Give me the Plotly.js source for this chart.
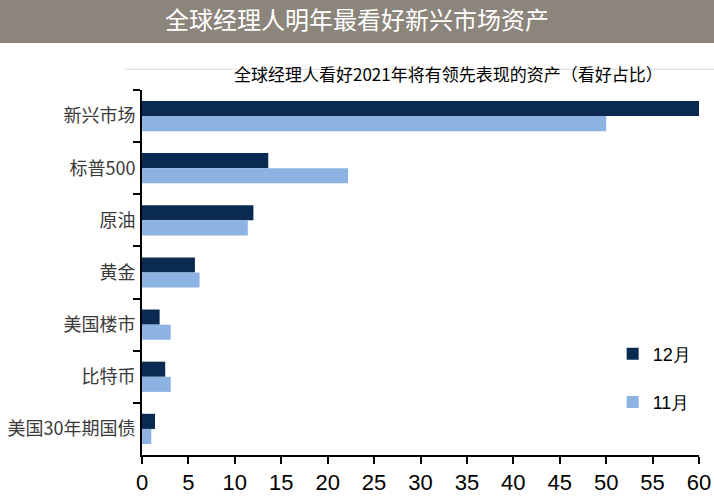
<!DOCTYPE html>
<html><head><meta charset="utf-8">
<script src="https://cdn.plot.ly/plotly-3.0.1.min.js"></script>
<style>html,body{margin:0;padding:0;background:#fff}#chart{width:714px;height:501px}</style>
</head><body><div id="chart"></div>
<script>
const categories = ["新兴市场","标普500","原油","黄金","美国楼市","比特币","美国30年期国债"];
const dec = [60, 13.6, 12.0, 5.7, 1.9, 2.5, 1.4];
const nov = [50, 22.2, 11.4, 6.2, 3.1, 3.1, 1.0];
const seriesNames = ["12月","11月"];
const xTicks = [0,5,10,15,20,25,30,35,40,45,50,55,60];

const traces = [
  {type:'bar', orientation:'h', name:seriesNames[0], y:categories, x:dec, marker:{color:'#0b2a52'}, legendgroup:'a'},
  {type:'bar', orientation:'h', name:seriesNames[1], y:categories, x:nov, marker:{color:'#8db3e2'}, legendgroup:'b'}
];
const layout = {
  width:714, height:501,
  margin:{l:142, r:15, t:90, b:46},
  paper_bgcolor:'#fff', plot_bgcolor:'#fff',
  barmode:'group', bargap:0.42, bargroupgap:0,
  showlegend:true,
  legend:{x:0.845, y:0.211, xanchor:'left', yanchor:'middle', font:{family:'Liberation Sans, Arial, sans-serif', size:18, color:'#000'}, tracegroupgap:22, bgcolor:'rgba(0,0,0,0)'},
  title:{text:'全球经理人明年最看好新兴市场资产', x:0.5, xanchor:'center', y:0.958, yanchor:'middle', yref:'container', font:{family:'Noto Sans CJK SC, sans-serif', size:24, color:'#fff'}},
  xaxis:{range:[0,60], tickvals:xTicks, showgrid:false, zeroline:false, showline:true, linecolor:'#000', linewidth:2, automargin:false,
         ticks:'outside', ticklen:7, tickwidth:2, tickcolor:'#000',
         tickfont:{family:'Liberation Sans Narrow, Arial Narrow, sans-serif', size:22, color:'#000'}},
  yaxis:{autorange:'reversed', showgrid:false, zeroline:false, showline:true, linecolor:'#000', linewidth:2, automargin:false,
         ticks:'outside', ticklen:7, tickwidth:2, tickcolor:'#000', tickson:'boundaries', ticklabelstandoff:1,
         tickfont:{family:'Noto Sans CJK SC, sans-serif', size:18, color:'#3a3a3a'}},
  shapes:[
    {type:'rect', xref:'paper', yref:'paper', x0:-0.26, x1:1.03, y0:1.1288, y1:1.25, fillcolor:'#8c857b', line:{width:0}, layer:'below'},
    {type:'line', xref:'paper', yref:'paper', x0:-0.0305, x1:1.03, y0:1.0567, y1:1.0567, line:{color:'#dcdcdc', width:1}, layer:'below'}
  ],
  annotations:[
    {text:'全球经理人看好2021年将有领先表现的资产（看好占比）', xref:'paper', yref:'paper', x:0.551, y:1.0452, xanchor:'center', yanchor:'middle', showarrow:false,
     font:{family:'Noto Sans CJK SC, sans-serif', size:17, color:'#000'}}
  ]
};
Plotly.newPlot('chart', traces, layout, {displayModeBar:false, staticPlot:true});
</script></body></html>
